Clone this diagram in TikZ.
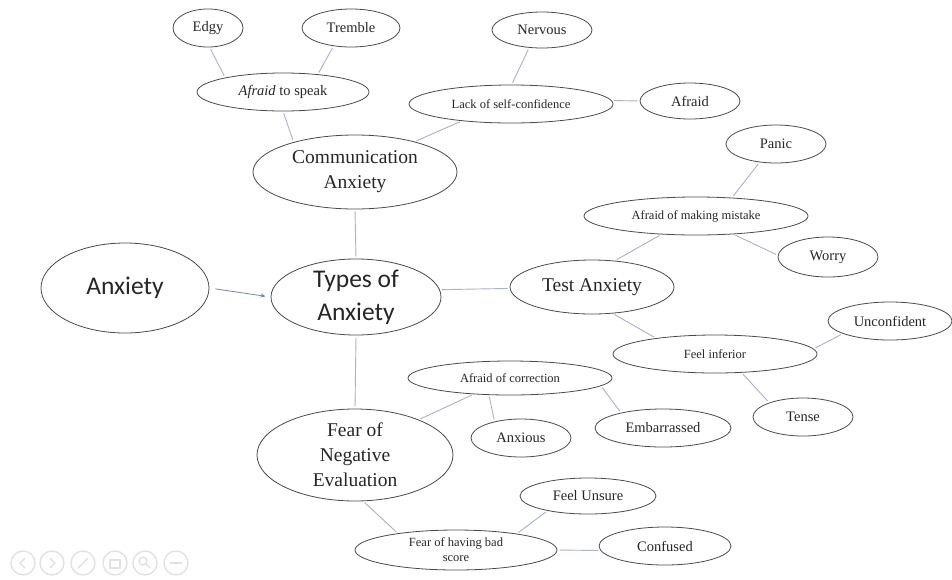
\documentclass[tikz,border=0pt]{standalone}
\usepackage{fontspec}
\setmainfont{Liberation Serif}
\newfontfamily\calfont{Carlito}
\usetikzlibrary{shapes.geometric,arrows.meta}
\definecolor{edgec}{HTML}{4A4A4A}
\definecolor{linec}{HTML}{AAB3C3}
\definecolor{arrc}{HTML}{7185AD}
\definecolor{iconc}{HTML}{E2E2E2}
\newcommand{\fsS}{\fontsize{12.5}{15}\selectfont}
\newcommand{\fsM}{\fontsize{14.5}{17}\selectfont}
\newcommand{\fsL}{\fontsize{19.5}{25}\selectfont}
\newcommand{\fsC}{\calfont\fontsize{25.5}{33}\selectfont}
\tikzset{
  bub/.style={draw=edgec, line width=0.8pt, ellipse, inner sep=0pt, align=center, text=black!85},
  con/.style={draw=linec, line width=0.9pt, shorten <=2pt, shorten >=2pt},
  icon/.style={draw=iconc, line width=1.4pt}
}
\begin{document}
\begin{tikzpicture}[x=1pt,y=-1pt]
\useasboundingbox[fill=white] (0,0) rectangle (952,579);

% nodes
\node[bub, minimum width=70pt, minimum height=38pt, font=\fsM] (edgy) at (208,28) {Edgy};
\node[bub, minimum width=98pt, minimum height=38pt, font=\fsM] (tremble) at (351,28) {Tremble};
\node[bub, minimum width=172pt, minimum height=38pt, font=\fsM] (ats) at (283,92) {\textit{Afraid} to speak};
\node[bub, minimum width=100pt, minimum height=36pt, font=\fsM] (nervous) at (542,30) {Nervous};
\node[bub, minimum width=204pt, minimum height=38pt, font=\fsS] (lsc) at (511,104) {Lack of self-confidence};
\node[bub, minimum width=100pt, minimum height=36pt, font=\fsM] (afraid) at (690,101) {Afraid};
\node[bub, minimum width=204pt, minimum height=74pt, font=\fsL] (comm) at (355,172) {Communication\\Anxiety};
\node[bub, minimum width=100pt, minimum height=38pt, font=\fsM] (panic) at (776,144) {Panic};
\node[bub, minimum width=224pt, minimum height=38pt, font=\fsS] (aomm) at (696,216) {Afraid of making mistake};
\node[bub, minimum width=100pt, minimum height=40pt, font=\fsM] (worry) at (828,257) {Worry};
\node[bub, minimum width=168pt, minimum height=90pt, font=\fsC] (anx) at (125,288) {Anxiety};
\node[bub, minimum width=170pt, minimum height=76pt, inner sep=-2pt, font=\fsC] (types) at (356,297) {Types of\\Anxiety};
\node[bub, minimum width=164pt, minimum height=54pt, font=\fsL] (test) at (592,287) {Test Anxiety};
\node[bub, minimum width=204pt, minimum height=38pt, font=\fsS] (fi) at (715,354) {Feel inferior};
\node[bub, minimum width=124pt, minimum height=38pt, font=\fsM] (unc) at (890,321) {Unconfident};
\node[bub, minimum width=100pt, minimum height=38pt, font=\fsM] (tense) at (803,417) {Tense};
\node[bub, minimum width=204pt, minimum height=34pt, font=\fsS] (aoc) at (510,378) {Afraid of correction};
\node[bub, minimum width=100pt, minimum height=38pt, font=\fsM] (anxious) at (521,438) {Anxious};
\node[bub, minimum width=136pt, minimum height=38pt, font=\fsM] (emb) at (663,428) {Embarrassed};
\node[bub, minimum width=196pt, minimum height=92pt, inner sep=-3pt, font=\fsL] (fne) at (355,455) {Fear of\\Negative\\Evaluation};
\node[bub, minimum width=136pt, minimum height=36pt, font=\fsM] (fu) at (588,496) {Feel Unsure};
\node[bub, minimum width=202pt, minimum height=40pt, font=\fsS] (fhbs) at (456,550) {Fear of having bad\\score};
\node[bub, minimum width=132pt, minimum height=38pt, font=\fsM] (conf) at (665,546) {Confused};

% connectors
\draw[con] (edgy.275) -- (ats.166);
\draw[con] (tremble.226) -- (ats.27);
\draw[con] (ats.270) -- (comm.154);
\draw[con] (nervous.234) -- (lsc.88);
\draw[con] (lsc.2) -- (afraid.180);
\draw[con] (lsc.199) -- (comm.27);
\draw[con] (comm.270) -- (types.90);
\draw[con] (types.5) -- (test.181);
\draw[con] (types.270) -- (fne.90);
\draw[con] (test.49) -- (aomm.208);
\draw[con] (aomm.27) -- (panic.228);
\draw[con] (aomm.334) -- (worry.178);
\draw[con] (test.308) -- (fi.165);
\draw[con] (fi.3) -- (unc.195);
\draw[con] (fi.325) -- (tense.157);
\draw[con] (fne.29) -- (aoc.204);
\draw[con] (aoc.219) -- (anxious.148);
\draw[con] (aoc.355) -- (emb.160);
\draw[con] (fne.280) -- (fhbs.164);
\draw[con] (fhbs.15) -- (fu.200);
\draw[con] (fhbs.0) -- (conf.184);

% arrow
\draw[draw=arrc, line width=0.8pt, shorten <=6pt, shorten >=5pt, -{Stealth[length=5pt,width=4pt]}] (anx.east) -- (types.west);

% faint viewer controls
\foreach \i/\xx in {1/23,2/52,3/83,4/115,5/145,6/176}{
  \draw[icon] (\xx,563) circle (12pt);
}
\draw[icon] (25,558) -- (20,563) -- (25,568);
\draw[icon] (50,558) -- (55,563) -- (50,568);
\draw[icon] (78,568) -- (88,558);
\draw[icon] (110,560) rectangle (120,568);
\draw[icon] (143,561) circle (4pt);
\draw[icon] (146,564) -- (150,568);
\draw[icon] (170,563) -- (182,563);
\end{tikzpicture}
\end{document}
